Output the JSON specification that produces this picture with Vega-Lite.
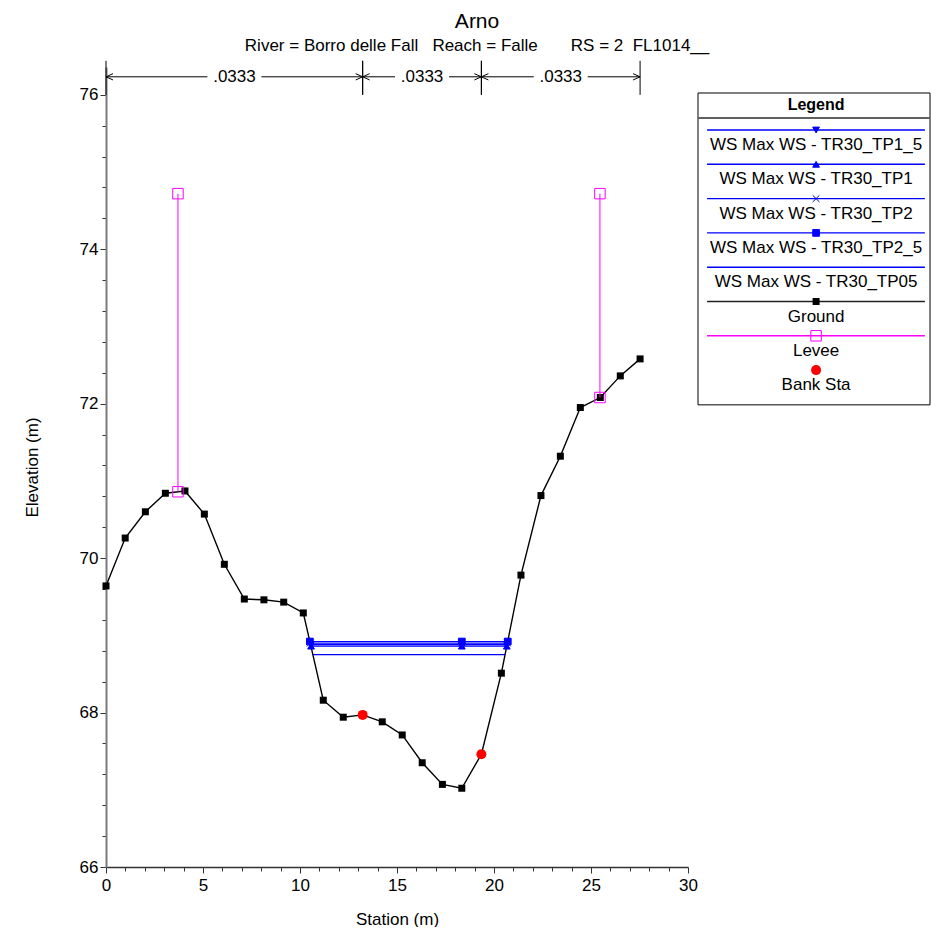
{
  "$schema": "https://vega.github.io/schema/vega-lite/v6.json",
  "background": "white",
  "padding": {"left": 23, "top": 11, "right": 0, "bottom": 0},
  "title": {
    "text": "Arno",
    "subtitle": "River = Borro delle Fall\u00a0\u00a0\u00a0Reach = Falle\u00a0\u00a0\u00a0\u00a0\u00a0\u00a0\u00a0RS = 2\u00a0\u00a0FL1014__",
    "font": "Liberation Sans",
    "fontSize": 21,
    "fontWeight": "normal",
    "color": "black",
    "subtitleFont": "Liberation Sans",
    "subtitleFontSize": 17,
    "subtitleColor": "black",
    "subtitlePadding": 6,
    "anchor": "middle",
    "offset": 6
  },
  "config": {"font": "Liberation Sans", "view": {"stroke": null}},
  "datasets": {
    "ground": [
      {"station": 0, "elevation": 69.64},
      {"station": 0.99, "elevation": 70.26},
      {"station": 2.03, "elevation": 70.60},
      {"station": 3.06, "elevation": 70.84},
      {"station": 4.07, "elevation": 70.87},
      {"station": 5.07, "elevation": 70.57},
      {"station": 6.10, "elevation": 69.92},
      {"station": 7.13, "elevation": 69.47},
      {"station": 8.14, "elevation": 69.46},
      {"station": 9.16, "elevation": 69.43},
      {"station": 10.17, "elevation": 69.29},
      {"station": 11.20, "elevation": 68.16},
      {"station": 12.23, "elevation": 67.94},
      {"station": 13.23, "elevation": 67.97},
      {"station": 14.24, "elevation": 67.88},
      {"station": 15.27, "elevation": 67.71},
      {"station": 16.30, "elevation": 67.35},
      {"station": 17.34, "elevation": 67.07},
      {"station": 18.34, "elevation": 67.02},
      {"station": 19.35, "elevation": 67.46},
      {"station": 20.38, "elevation": 68.51},
      {"station": 21.39, "elevation": 69.78},
      {"station": 22.42, "elevation": 70.81},
      {"station": 23.42, "elevation": 71.32},
      {"station": 24.45, "elevation": 71.95},
      {"station": 25.48, "elevation": 72.08},
      {"station": 26.51, "elevation": 72.36},
      {"station": 27.53, "elevation": 72.58}
    ],
    "bank": [
      {"station": 13.23, "elevation": 67.97},
      {"station": 19.35, "elevation": 67.46}
    ],
    "levee": [
      {"station": 3.71, "top": 74.72, "bottom": 70.86},
      {"station": 25.46, "top": 74.72, "bottom": 72.08}
    ],
    "ws": [
      {"profile": "WS Max WS - TR30_TP1_5", "station": 10.55, "ws": 68.88},
      {"profile": "WS Max WS - TR30_TP1_5", "station": 18.34, "ws": 68.88},
      {"profile": "WS Max WS - TR30_TP1_5", "station": 20.67, "ws": 68.88},
      {"profile": "WS Max WS - TR30_TP1", "station": 10.57, "ws": 68.86},
      {"profile": "WS Max WS - TR30_TP1", "station": 18.34, "ws": 68.86},
      {"profile": "WS Max WS - TR30_TP1", "station": 20.66, "ws": 68.86},
      {"profile": "WS Max WS - TR30_TP2", "station": 10.53, "ws": 68.90},
      {"profile": "WS Max WS - TR30_TP2", "station": 18.34, "ws": 68.90},
      {"profile": "WS Max WS - TR30_TP2", "station": 20.69, "ws": 68.90},
      {"profile": "WS Max WS - TR30_TP2_5", "station": 10.51, "ws": 68.92},
      {"profile": "WS Max WS - TR30_TP2_5", "station": 18.34, "ws": 68.92},
      {"profile": "WS Max WS - TR30_TP2_5", "station": 20.71, "ws": 68.92},
      {"profile": "WS Max WS - TR30_TP05", "station": 10.67, "ws": 68.75},
      {"profile": "WS Max WS - TR30_TP05", "station": 18.34, "ws": 68.75},
      {"profile": "WS Max WS - TR30_TP05", "station": 20.57, "ws": 68.75}
    ],
    "nvals": [
      {"start": 0, "end": 13.23, "mid": 6.62, "n": ".0333"},
      {"start": 13.23, "end": 19.35, "mid": 16.29, "n": ".0333"},
      {"start": 19.35, "end": 27.53, "mid": 23.44, "n": ".0333"}
    ],
    "legend": [
      {"series": "WS Max WS - TR30_TP1_5", "k": 0},
      {"series": "WS Max WS - TR30_TP1", "k": 1},
      {"series": "WS Max WS - TR30_TP2", "k": 2},
      {"series": "WS Max WS - TR30_TP2_5", "k": 3},
      {"series": "WS Max WS - TR30_TP05", "k": 4},
      {"series": "Ground", "k": 5},
      {"series": "Levee", "k": 6},
      {"series": "Bank Sta", "k": 7}
    ]
  },
  "resolve": {"scale": {"color": "independent", "shape": "independent", "size": "independent"}},
  "bounds": "flush",
  "spacing": 10,
  "hconcat": [
    {
      "width": 582,
      "height": 800,
      "layer": [
        {
          "data": {"name": "ground"},
          "mark": {"type": "line", "color": "black", "strokeWidth": 1.4},
          "encoding": {
            "x": {
              "field": "station", "type": "quantitative",
              "scale": {"domain": [0, 30], "nice": false, "zero": false},
              "axis": {
                "title": "Station (m)",
                "values": [0,1,2,3,4,5,6,7,8,9,10,11,12,13,14,15,16,17,18,19,20,21,22,23,24,25,26,27,28,29,30],
                "tickCount": 500,
                "tickMinStep": 0.1,
                "labelExpr": "datum.value % 5 === 0 ? format(datum.value, 'd') : ''",
                "tickSize": {"condition": {"test": "datum.value % 5 === 0", "value": 6}, "value": 4},
                "labelFontSize": 17, "labelColor": "black", "labelFlush": false, "labelOverlap": false,
                "labelPadding": 4, "labelFont": "Liberation Sans",
                "domainColor": "#333333", "domainWidth": 1.5, "tickColor": "#333333", "tickWidth": 1,
                "titleFontSize": 17, "titleFontWeight": "normal", "titleColor": "black", "titleFont": "Liberation Sans",
                "titlePadding": 18, "grid": false
              }
            },
            "y": {
              "field": "elevation", "type": "quantitative",
              "scale": {"domain": [66, 76.36], "nice": false, "zero": false},
              "axis": {
                "title": "Elevation (m)",
                "values": [66,66.4,66.8,67.2,67.6,68,68.4,68.8,69.2,69.6,70,70.4,70.8,71.2,71.6,72,72.4,72.8,73.2,73.6,74,74.4,74.8,75.2,75.6,76],
                "tickCount": 500,
                "tickMinStep": 0.1,
                "labelExpr": "abs(datum.value - 2*round(datum.value/2)) < 0.01 ? format(datum.value, 'd') : ''",
                "tickSize": {"condition": {"test": "abs(datum.value - 2*round(datum.value/2)) < 0.01", "value": 6}, "value": 4},
                "labelFontSize": 17, "labelColor": "black", "labelOverlap": false, "labelFlush": false,
                "labelPadding": 2, "labelFont": "Liberation Sans",
                "domainColor": "#7a7a7a", "domainWidth": 2, "tickColor": "#333333", "tickWidth": 1,
                "titleFontSize": 17, "titleFontWeight": "normal", "titleColor": "black", "titleFont": "Liberation Sans",
                "titlePadding": 38, "grid": false
              }
            }
          }
        },
        {
          "data": {"name": "nvals"},
          "mark": {"type": "rule", "color": "black", "strokeWidth": 1, "x2Offset": -27},
          "encoding": {
            "x": {"field": "start", "type": "quantitative"},
            "x2": {"field": "mid"},
            "y": {"datum": 76.233, "type": "quantitative"}
          }
        },
        {
          "data": {"name": "nvals"},
          "mark": {"type": "rule", "color": "black", "strokeWidth": 1, "xOffset": 27},
          "encoding": {
            "x": {"field": "mid", "type": "quantitative"},
            "x2": {"field": "end"},
            "y": {"datum": 76.233, "type": "quantitative"}
          }
        },
        {
          "data": {"name": "nvals"},
          "mark": {"type": "text", "color": "black", "fontSize": 17, "baseline": "middle", "align": "center", "font": "Liberation Sans"},
          "encoding": {
            "x": {"field": "mid", "type": "quantitative"},
            "y": {"datum": 76.233, "type": "quantitative"},
            "text": {"field": "n"}
          }
        },
        {
          "data": {"name": "nvals"},
          "mark": {"type": "rule", "color": "black", "strokeWidth": 1},
          "encoding": {
            "x": {"field": "start", "type": "quantitative"},
            "y": {"datum": 76.0, "type": "quantitative"},
            "y2": {"datum": 76.44}
          }
        },
        {
          "data": {"name": "nvals"},
          "mark": {"type": "rule", "color": "black", "strokeWidth": 1},
          "encoding": {
            "x": {"field": "end", "type": "quantitative"},
            "y": {"datum": 76.0, "type": "quantitative"},
            "y2": {"datum": 76.44}
          }
        },
        {
          "data": {"name": "nvals"},
          "mark": {"type": "point", "shape": "M0,0L1,-0.45M0,0L1,0.45", "filled": false, "color": "black", "strokeWidth": 1, "size": 196, "opacity": 1},
          "encoding": {
            "x": {"field": "start", "type": "quantitative"},
            "y": {"datum": 76.233, "type": "quantitative"}
          }
        },
        {
          "data": {"name": "nvals"},
          "mark": {"type": "point", "shape": "M0,0L-1,-0.45M0,0L-1,0.45", "filled": false, "color": "black", "strokeWidth": 1, "size": 196, "opacity": 1},
          "encoding": {
            "x": {"field": "end", "type": "quantitative"},
            "y": {"datum": 76.233, "type": "quantitative"}
          }
        },
        {
          "data": {"name": "ws"},
          "mark": {"type": "line", "color": "#0000FF", "strokeWidth": 1.2},
          "encoding": {
            "x": {"field": "station", "type": "quantitative"},
            "y": {"field": "ws", "type": "quantitative"},
            "detail": {"field": "profile"}
          }
        },
        {
          "data": {"name": "ws"},
          "transform": [{"filter": "datum.profile !== 'WS Max WS - TR30_TP05'"}],
          "mark": {"type": "point", "filled": true, "color": "#0000FF", "stroke": "#0000FF", "strokeWidth": 1, "size": 45, "opacity": 1},
          "encoding": {
            "x": {"field": "station", "type": "quantitative"},
            "y": {"field": "ws", "type": "quantitative"},
            "shape": {
              "field": "profile", "type": "nominal", "legend": null,
              "scale": {
                "domain": ["WS Max WS - TR30_TP1_5", "WS Max WS - TR30_TP1", "WS Max WS - TR30_TP2", "WS Max WS - TR30_TP2_5"],
                "range": ["triangle-down", "triangle-up", "M-1,-1L1,1M-1,1L1,-1", "square"]
              }
            }
          }
        },
        {
          "data": {"name": "ground"},
          "mark": {"type": "point", "shape": "square", "filled": true, "color": "black", "size": 49, "opacity": 1},
          "encoding": {
            "x": {"field": "station", "type": "quantitative"},
            "y": {"field": "elevation", "type": "quantitative"}
          }
        },
        {
          "data": {"name": "levee"},
          "mark": {"type": "rule", "color": "#FF00FF", "strokeWidth": 1},
          "encoding": {
            "x": {"field": "station", "type": "quantitative"},
            "y": {"field": "top", "type": "quantitative"},
            "y2": {"field": "bottom"}
          }
        },
        {
          "data": {"name": "levee"},
          "mark": {"type": "point", "shape": "square", "filled": false, "color": "#FF00FF", "strokeWidth": 1, "size": 110, "opacity": 1},
          "encoding": {
            "x": {"field": "station", "type": "quantitative"},
            "y": {"field": "top", "type": "quantitative"}
          }
        },
        {
          "data": {"name": "levee"},
          "mark": {"type": "point", "shape": "square", "filled": false, "color": "#FF00FF", "strokeWidth": 1, "size": 110, "opacity": 1},
          "encoding": {
            "x": {"field": "station", "type": "quantitative"},
            "y": {"field": "bottom", "type": "quantitative"}
          }
        },
        {
          "data": {"name": "bank"},
          "mark": {"type": "point", "shape": "circle", "filled": true, "color": "#FF0000", "size": 100, "opacity": 1},
          "encoding": {
            "x": {"field": "station", "type": "quantitative"},
            "y": {"field": "elevation", "type": "quantitative"}
          }
        }
      ]
    },
    {
      "width": 232,
      "height": 343,
      "layer": [
        {
          "data": {"values": [{}]},
          "mark": {"type": "rect", "fill": "white", "stroke": "black", "strokeWidth": 1},
          "encoding": {
            "x": {"datum": 0, "type": "quantitative", "scale": {"domain": [0, 1], "nice": false, "zero": false}, "axis": null},
            "x2": {"datum": 1},
            "y": {"datum": -1.079, "type": "quantitative", "scale": {"domain": [-1.837, 8.163], "nice": false, "zero": false, "reverse": true}, "axis": null},
            "y2": {"datum": 8.013}
          }
        },
        {
          "data": {"values": [{}]},
          "mark": {"type": "text", "text": "Legend", "fontSize": 16, "fontWeight": "bold", "color": "black", "baseline": "middle", "align": "center", "font": "Liberation Sans"},
          "encoding": {
            "x": {"datum": 0.509, "type": "quantitative"},
            "y": {"datum": -0.729, "type": "quantitative"}
          }
        },
        {
          "data": {"values": [{}]},
          "mark": {"type": "rule", "color": "#606060", "strokeWidth": 2},
          "encoding": {
            "x": {"datum": 0, "type": "quantitative"},
            "x2": {"datum": 1},
            "y": {"datum": -0.35, "type": "quantitative"}
          }
        },
        {
          "data": {"name": "legend"},
          "transform": [{"filter": "datum.series !== 'Bank Sta'"}],
          "mark": {"type": "rule", "strokeWidth": 1.4},
          "encoding": {
            "x": {"datum": 0.039, "type": "quantitative"},
            "x2": {"datum": 0.978},
            "y": {"field": "k", "type": "quantitative"},
            "color": {
              "field": "series", "type": "nominal", "legend": null,
              "scale": {
                "domain": ["WS Max WS - TR30_TP1_5", "WS Max WS - TR30_TP1", "WS Max WS - TR30_TP2", "WS Max WS - TR30_TP2_5", "WS Max WS - TR30_TP05", "Ground", "Levee", "Bank Sta"],
                "range": ["#0000FF", "#0000FF", "#0000FF", "#0000FF", "#0000FF", "#222222", "#FF00FF", "#FF0000"]
              }
            }
          }
        },
        {
          "data": {"name": "legend"},
          "transform": [{"filter": "indexof(['WS Max WS - TR30_TP1_5', 'WS Max WS - TR30_TP1', 'WS Max WS - TR30_TP2', 'WS Max WS - TR30_TP2_5'], datum.series) >= 0"}],
          "mark": {"type": "point", "filled": true, "color": "#0000FF", "stroke": "#0000FF", "strokeWidth": 1, "size": 45, "opacity": 1},
          "encoding": {
            "x": {"datum": 0.509, "type": "quantitative"},
            "y": {"field": "k", "type": "quantitative"},
            "shape": {
              "field": "series", "type": "nominal", "legend": null,
              "scale": {
                "domain": ["WS Max WS - TR30_TP1_5", "WS Max WS - TR30_TP1", "WS Max WS - TR30_TP2", "WS Max WS - TR30_TP2_5"],
                "range": ["triangle-down", "triangle-up", "M-1,-1L1,1M-1,1L1,-1", "square"]
              }
            }
          }
        },
        {
          "data": {"name": "legend"},
          "transform": [{"filter": "datum.series === 'Ground'"}],
          "mark": {"type": "point", "shape": "square", "filled": true, "color": "black", "size": 49, "opacity": 1},
          "encoding": {
            "x": {"datum": 0.509, "type": "quantitative"},
            "y": {"field": "k", "type": "quantitative"}
          }
        },
        {
          "data": {"name": "legend"},
          "transform": [{"filter": "datum.series === 'Levee'"}],
          "mark": {"type": "point", "shape": "square", "filled": false, "color": "#FF00FF", "strokeWidth": 1, "size": 110, "opacity": 1},
          "encoding": {
            "x": {"datum": 0.509, "type": "quantitative"},
            "y": {"field": "k", "type": "quantitative"}
          }
        },
        {
          "data": {"name": "legend"},
          "transform": [{"filter": "datum.series === 'Bank Sta'"}],
          "mark": {"type": "point", "shape": "circle", "filled": true, "color": "#FF0000", "size": 100, "opacity": 1},
          "encoding": {
            "x": {"datum": 0.509, "type": "quantitative"},
            "y": {"field": "k", "type": "quantitative"}
          }
        },
        {
          "data": {"name": "legend"},
          "mark": {"type": "text", "fontSize": 17, "color": "black", "baseline": "middle", "align": "center", "dy": 15, "font": "Liberation Sans"},
          "encoding": {
            "x": {"datum": 0.509, "type": "quantitative"},
            "y": {"field": "k", "type": "quantitative"},
            "text": {"field": "series"}
          }
        }
      ]
    }
  ]
}
